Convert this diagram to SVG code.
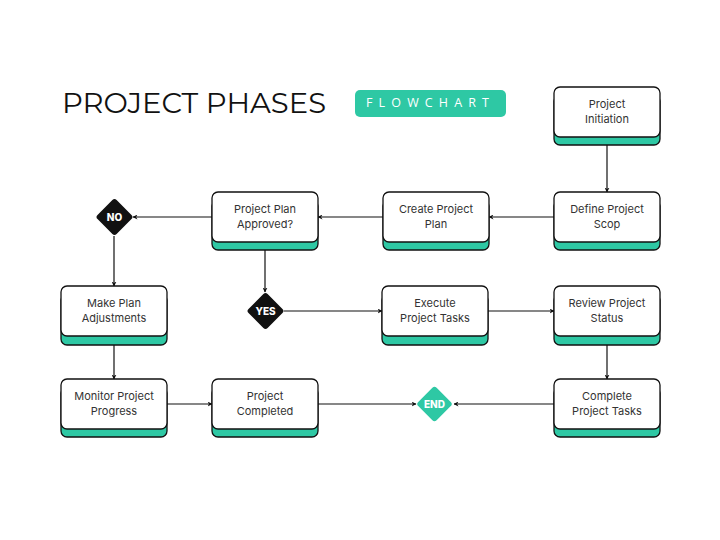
<svg xmlns="http://www.w3.org/2000/svg" width="720" height="540" viewBox="0 0 720 540">
<defs>
<style>
.base{fill:#2ec8a4;stroke:#111;stroke-width:1.3}
.box{fill:#fff;stroke:#111;stroke-width:1.3}
.lbl{font-family:"Inter","Noto Sans",sans-serif;font-size:11px;fill:#333;text-anchor:middle}
.dl{font-family:"Inter","Noto Sans",sans-serif;font-size:10px;font-weight:800;fill:#fff;text-anchor:middle}
.con{stroke:#111;stroke-width:1.2;fill:none;marker-end:url(#ah)}
</style>
<marker id="ah" viewBox="0 0 10 10" refX="9" refY="5" markerWidth="5" markerHeight="5" orient="auto" markerUnits="userSpaceOnUse">
<path d="M0,0 L10,5 L0,10 L3,5 Z" fill="#111"/>
</marker>
</defs>
<rect width="720" height="540" fill="#fff"/>
<g id="title">
<text x="62" y="112.5" font-family="Montserrat,'Open Sans',sans-serif" font-size="28" fill="#111" textLength="264" lengthAdjust="spacingAndGlyphs">PROJECT PHASES</text>
<rect x="355" y="90" width="151" height="27" rx="5" fill="#2ec8a4"/>
<text x="366" y="107" font-family="'Open Sans',sans-serif" font-size="12.5" fill="#fff" textLength="123" lengthAdjust="spacing">FLOWCHART</text>
</g>
<g id="connectors">
<line class="con" x1="607" y1="145" x2="607" y2="192"/>
<line class="con" x1="554" y1="217" x2="489" y2="217"/>
<line class="con" x1="383" y1="217" x2="318" y2="217"/>
<line class="con" x1="212" y1="217" x2="133" y2="217"/>
<line class="con" x1="114" y1="236" x2="114" y2="286"/>
<line class="con" x1="265" y1="250" x2="265" y2="292"/>
<line class="con" x1="284" y1="311" x2="382" y2="311"/>
<line class="con" x1="488" y1="311" x2="554" y2="311"/>
<line class="con" x1="607" y1="345" x2="607" y2="379"/>
<line class="con" x1="114" y1="345" x2="114" y2="379"/>
<line class="con" x1="167" y1="404" x2="212" y2="404"/>
<line class="con" x1="318" y1="404" x2="416" y2="404"/>
<line class="con" x1="554" y1="404" x2="454" y2="404"/>
</g>
<g id="n-initiation">
<rect class="base" x="554" y="95" width="106" height="50" rx="6"/>
<rect class="box" x="554" y="87" width="106" height="50" rx="6"/>
<text class="lbl" x="607" y="107.5">Project</text>
<text class="lbl" x="607" y="122.5">Initiation</text>
</g>
<g id="n-define">
<rect class="base" x="554" y="200" width="106" height="50" rx="6"/>
<rect class="box" x="554" y="192" width="106" height="50" rx="6"/>
<text class="lbl" x="607" y="213">Define Project</text>
<text class="lbl" x="607" y="228">Scop</text>
</g>
<g id="n-create">
<rect class="base" x="383" y="200" width="106" height="50" rx="6"/>
<rect class="box" x="383" y="192" width="106" height="50" rx="6"/>
<text class="lbl" x="436" y="213">Create Project</text>
<text class="lbl" x="436" y="228">Plan</text>
</g>
<g id="n-approved">
<rect class="base" x="212" y="200" width="106" height="50" rx="6"/>
<rect class="box" x="212" y="192" width="106" height="50" rx="6"/>
<text class="lbl" x="265" y="213">Project Plan</text>
<text class="lbl" x="265" y="228">Approved?</text>
</g>
<g id="n-no">
<rect x="101" y="203.5" width="27" height="27" rx="3" fill="#111" transform="rotate(45 114.5 217)"/>
<text class="dl" x="114.5" y="220.5">NO</text>
</g>
<g id="n-yes">
<rect x="252" y="297.5" width="27" height="27" rx="3" fill="#111" transform="rotate(45 265.5 311)"/>
<text class="dl" x="265.5" y="314.5">YES</text>
</g>
<g id="n-adjust">
<rect class="base" x="61" y="294" width="106" height="51" rx="6"/>
<rect class="box" x="61" y="286" width="106" height="50" rx="6"/>
<text class="lbl" x="114" y="307">Make Plan</text>
<text class="lbl" x="114" y="322">Adjustments</text>
</g>
<g id="n-execute">
<rect class="base" x="382" y="294" width="106" height="51" rx="6"/>
<rect class="box" x="382" y="286" width="106" height="50" rx="6"/>
<text class="lbl" x="435" y="307">Execute</text>
<text class="lbl" x="435" y="322">Project Tasks</text>
</g>
<g id="n-review">
<rect class="base" x="554" y="294" width="106" height="51" rx="6"/>
<rect class="box" x="554" y="286" width="106" height="50" rx="6"/>
<text class="lbl" x="607" y="307">Review Project</text>
<text class="lbl" x="607" y="322">Status</text>
</g>
<g id="n-monitor">
<rect class="base" x="61" y="387" width="106" height="50" rx="6"/>
<rect class="box" x="61" y="379" width="106" height="50" rx="6"/>
<text class="lbl" x="114" y="400">Monitor Project</text>
<text class="lbl" x="114" y="415">Progress</text>
</g>
<g id="n-completed">
<rect class="base" x="212" y="387" width="106" height="50" rx="6"/>
<rect class="box" x="212" y="379" width="106" height="50" rx="6"/>
<text class="lbl" x="265" y="400">Project</text>
<text class="lbl" x="265" y="415">Completed</text>
</g>
<g id="n-end">
<rect x="421.5" y="391" width="26" height="26" rx="3" fill="#2ec8a4" transform="rotate(45 434.5 404)"/>
<text class="dl" x="434.5" y="407.5">END</text>
</g>
<g id="n-complete">
<rect class="base" x="554" y="387" width="106" height="50" rx="6"/>
<rect class="box" x="554" y="379" width="106" height="50" rx="6"/>
<text class="lbl" x="607" y="400">Complete</text>
<text class="lbl" x="607" y="415">Project Tasks</text>
</g>
</svg>
